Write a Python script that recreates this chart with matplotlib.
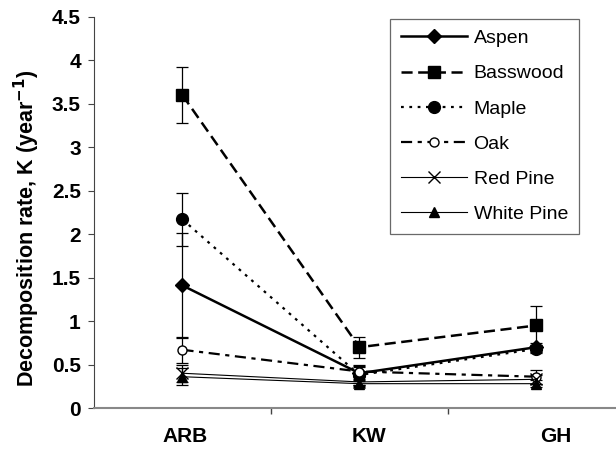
import matplotlib
matplotlib.use("Agg")
import matplotlib.pyplot as plt
import matplotlib.transforms as mtransforms
import numpy as np

plt.rcParams['font.family'] = ['Liberation Sans', 'DejaVu Sans']
plt.rcParams['lines.scale_dashes'] = False

categories = ['ARB', 'KW', 'GH']
series_names = ['Aspen', 'Basswood', 'Maple', 'Oak', 'Red Pine', 'White Pine']
aspen = [1.41, 0.40, 0.70]
aspen_err = [0.60, 0.08, 0.05]
basswood = [3.60, 0.70, 0.95]
basswood_err = [0.32, 0.12, 0.22]
maple = [2.17, 0.38, 0.68]
maple_err = [0.30, 0.12, 0.05]
oak = [0.67, 0.42, 0.36]
oak_err = [0.15, 0.05, 0.08]
red_pine = [0.40, 0.30, 0.33]
red_pine_err = [0.10, 0.03, 0.05]
white_pine = [0.36, 0.28, 0.28]
white_pine_err = [0.10, 0.03, 0.04]
yticks = [0, 0.5, 1, 1.5, 2, 2.5, 3, 3.5, 4, 4.5]
ytick_labels = ['0', '0.5', '1', '1.5', '2', '2.5', '3', '3.5', '4', '4.5']

values = [aspen, basswood, maple, oak, red_pine, white_pine]
errors = [aspen_err, basswood_err, maple_err, oak_err, red_pine_err, white_pine_err]
styles = [
    dict(ls='-', lw=1.8, marker='D', ms=7.5, mfc='black'),
    dict(ls=(0, (8, 4)), lw=1.8, marker='s', ms=8, mfc='black'),
    dict(ls=(0, (2, 4)), lw=1.6, marker='o', ms=8.5, mfc='black'),
    dict(ls=(0, (8, 4, 3, 4)), lw=1.6, marker='o', ms=6.5, mfc='white', mew=1.0),
    dict(ls='-', lw=0.8, marker='x', ms=8, mfc='black', mew=1.0),
    dict(ls='-', lw=0.8, marker='^', ms=7, mfc='black'),
]

fig = plt.figure(figsize=(6.16, 4.49), dpi=100)
ax = fig.add_axes([94/616, 41/449, 1 - 94/616, 391/449])

x = np.arange(len(categories))
for vals, errs in zip(values, errors):
    ax.errorbar(x, vals, yerr=errs, fmt='none', ecolor='black',
                elinewidth=0.9, capsize=4, capthick=0.9, zorder=2)
for name, vals, st in zip(series_names, values, styles):
    ax.plot(x, vals, color='black', mec='black', label=name, zorder=3, **st)

ax.set_xlim(-0.5, 2.45)
ax.set_ylim(0, 4.5)
ax.set_yticks(yticks)
ax.set_yticklabels(ytick_labels, fontweight='bold', fontsize=15)
ax.set_xticks(x)
ax.set_xticklabels(categories, fontweight='bold', fontsize=15)
ax.set_xticks([0.5, 1.5], minor=True)
ax.tick_params(axis='x', which='major', length=0, pad=14)
ax.tick_params(axis='x', which='minor', length=4, width=1, color='#444444')
ax.tick_params(axis='y', which='major', length=4.5, width=0.8, pad=5, color='#444444')

offsets = [3, 10, 19]
for lab, dx in zip(ax.get_xticklabels(), offsets):
    lab.set_transform(lab.get_transform() + mtransforms.ScaledTranslation(dx/100, 0, fig.dpi_scale_trans))

for s in ['top', 'right']:
    ax.spines[s].set_visible(False)
ax.spines['left'].set_color('#444444')
ax.spines['left'].set_linewidth(0.8)
ax.spines['bottom'].set_color('#888888')
ax.spines['bottom'].set_linewidth(1.5)

ax.set_ylabel('Decomposition rate, K (year$^{\\mathbf{-1}}$)', fontweight='bold', fontsize=15.5)
ax.yaxis.set_label_coords(-0.1, 0.46)

leg = ax.legend(loc='upper left', bbox_to_anchor=(390/616, 1 - 19/449),
                bbox_transform=fig.transFigure, fontsize=14, frameon=True,
                fancybox=False, edgecolor='#444444', handlelength=3.4,
                labelspacing=0.9, borderpad=0.55, handletextpad=0.35,
                borderaxespad=0)
leg.get_frame().set_linewidth(0.9)

fig.savefig('out.png', dpi=100)
